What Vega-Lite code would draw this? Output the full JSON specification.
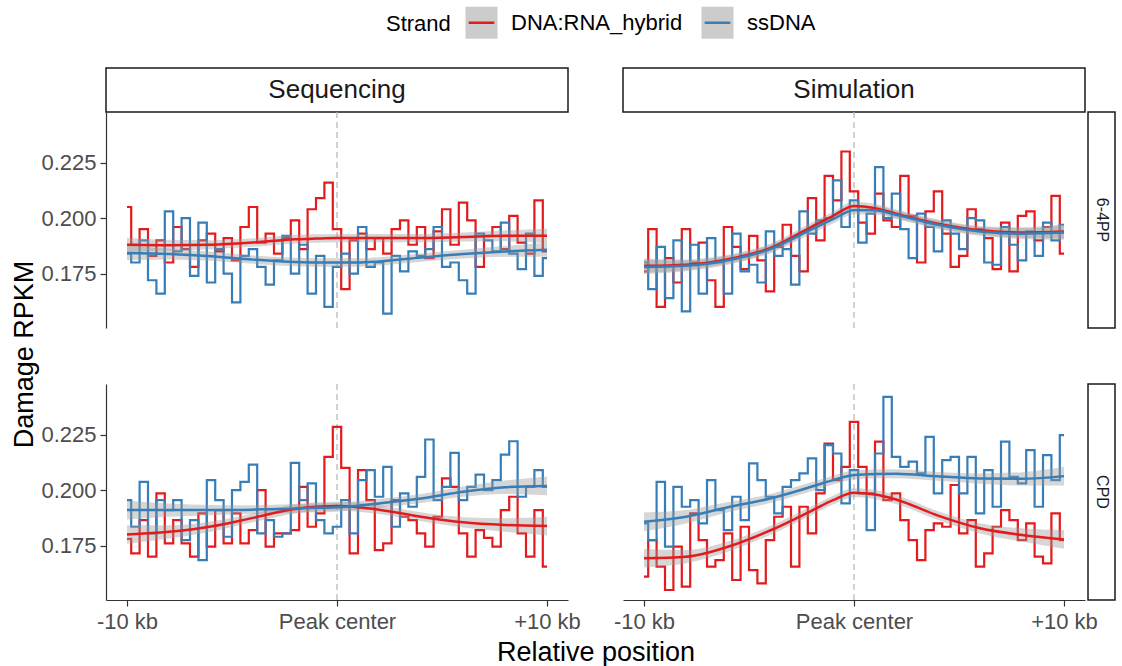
{
"$schema": "https://vega.github.io/schema/vega-lite/v6.json",
"background": "white",
"padding": {"left": 10, "top": 5, "right": 5, "bottom": 5},
"autosize": {"type": "pad"},
"columns": 5,
"spacing": 0,
"bounds": "flush",
"align": "each",
"datasets": {
"seq6": [
{"x":-10,"Strand":"DNA:RNA_hybrid","y":0.205},{"x":-9.6,"Strand":"DNA:RNA_hybrid","y":0.188},{"x":-9.2,"Strand":"DNA:RNA_hybrid","y":0.195},{"x":-8.8,"Strand":"DNA:RNA_hybrid","y":0.183},{"x":-8.4,"Strand":"DNA:RNA_hybrid","y":0.190},{"x":-8,"Strand":"DNA:RNA_hybrid","y":0.180},{"x":-7.6,"Strand":"DNA:RNA_hybrid","y":0.196},{"x":-7.2,"Strand":"DNA:RNA_hybrid","y":0.186},{"x":-6.8,"Strand":"DNA:RNA_hybrid","y":0.178},{"x":-6.4,"Strand":"DNA:RNA_hybrid","y":0.190},{"x":-6,"Strand":"DNA:RNA_hybrid","y":0.193},{"x":-5.6,"Strand":"DNA:RNA_hybrid","y":0.185},{"x":-5.2,"Strand":"DNA:RNA_hybrid","y":0.191},{"x":-4.8,"Strand":"DNA:RNA_hybrid","y":0.181},{"x":-4.4,"Strand":"DNA:RNA_hybrid","y":0.196},{"x":-4,"Strand":"DNA:RNA_hybrid","y":0.205},{"x":-3.6,"Strand":"DNA:RNA_hybrid","y":0.189},{"x":-3.2,"Strand":"DNA:RNA_hybrid","y":0.193},{"x":-2.8,"Strand":"DNA:RNA_hybrid","y":0.184},{"x":-2.4,"Strand":"DNA:RNA_hybrid","y":0.191},{"x":-2,"Strand":"DNA:RNA_hybrid","y":0.199},{"x":-1.6,"Strand":"DNA:RNA_hybrid","y":0.186},{"x":-1.2,"Strand":"DNA:RNA_hybrid","y":0.204},{"x":-0.8,"Strand":"DNA:RNA_hybrid","y":0.209},{"x":-0.4,"Strand":"DNA:RNA_hybrid","y":0.216},{"x":0,"Strand":"DNA:RNA_hybrid","y":0.195},{"x":0.4,"Strand":"DNA:RNA_hybrid","y":0.168},{"x":0.8,"Strand":"DNA:RNA_hybrid","y":0.190},{"x":1.2,"Strand":"DNA:RNA_hybrid","y":0.193},{"x":1.6,"Strand":"DNA:RNA_hybrid","y":0.186},{"x":2,"Strand":"DNA:RNA_hybrid","y":0.191},{"x":2.4,"Strand":"DNA:RNA_hybrid","y":0.184},{"x":2.8,"Strand":"DNA:RNA_hybrid","y":0.195},{"x":3.2,"Strand":"DNA:RNA_hybrid","y":0.199},{"x":3.6,"Strand":"DNA:RNA_hybrid","y":0.188},{"x":4,"Strand":"DNA:RNA_hybrid","y":0.196},{"x":4.4,"Strand":"DNA:RNA_hybrid","y":0.182},{"x":4.8,"Strand":"DNA:RNA_hybrid","y":0.194},{"x":5.2,"Strand":"DNA:RNA_hybrid","y":0.204},{"x":5.6,"Strand":"DNA:RNA_hybrid","y":0.188},{"x":6,"Strand":"DNA:RNA_hybrid","y":0.207},{"x":6.4,"Strand":"DNA:RNA_hybrid","y":0.199},{"x":6.8,"Strand":"DNA:RNA_hybrid","y":0.178},{"x":7.2,"Strand":"DNA:RNA_hybrid","y":0.192},{"x":7.6,"Strand":"DNA:RNA_hybrid","y":0.196},{"x":8,"Strand":"DNA:RNA_hybrid","y":0.186},{"x":8.4,"Strand":"DNA:RNA_hybrid","y":0.201},{"x":8.8,"Strand":"DNA:RNA_hybrid","y":0.189},{"x":9.2,"Strand":"DNA:RNA_hybrid","y":0.184},{"x":9.6,"Strand":"DNA:RNA_hybrid","y":0.208},{"x":10,"Strand":"DNA:RNA_hybrid","y":0.185},
{"x":-10,"Strand":"ssDNA","y":0.184},{"x":-9.6,"Strand":"ssDNA","y":0.180},{"x":-9.2,"Strand":"ssDNA","y":0.190},{"x":-8.8,"Strand":"ssDNA","y":0.172},{"x":-8.4,"Strand":"ssDNA","y":0.166},{"x":-8,"Strand":"ssDNA","y":0.203},{"x":-7.6,"Strand":"ssDNA","y":0.185},{"x":-7.2,"Strand":"ssDNA","y":0.200},{"x":-6.8,"Strand":"ssDNA","y":0.174},{"x":-6.4,"Strand":"ssDNA","y":0.198},{"x":-6,"Strand":"ssDNA","y":0.171},{"x":-5.6,"Strand":"ssDNA","y":0.186},{"x":-5.2,"Strand":"ssDNA","y":0.175},{"x":-4.8,"Strand":"ssDNA","y":0.162},{"x":-4.4,"Strand":"ssDNA","y":0.183},{"x":-4,"Strand":"ssDNA","y":0.186},{"x":-3.6,"Strand":"ssDNA","y":0.178},{"x":-3.2,"Strand":"ssDNA","y":0.170},{"x":-2.8,"Strand":"ssDNA","y":0.181},{"x":-2.4,"Strand":"ssDNA","y":0.192},{"x":-2,"Strand":"ssDNA","y":0.175},{"x":-1.6,"Strand":"ssDNA","y":0.188},{"x":-1.2,"Strand":"ssDNA","y":0.166},{"x":-0.8,"Strand":"ssDNA","y":0.183},{"x":-0.4,"Strand":"ssDNA","y":0.160},{"x":0,"Strand":"ssDNA","y":0.178},{"x":0.4,"Strand":"ssDNA","y":0.184},{"x":0.8,"Strand":"ssDNA","y":0.175},{"x":1.2,"Strand":"ssDNA","y":0.196},{"x":1.6,"Strand":"ssDNA","y":0.178},{"x":2,"Strand":"ssDNA","y":0.180},{"x":2.4,"Strand":"ssDNA","y":0.157},{"x":2.8,"Strand":"ssDNA","y":0.183},{"x":3.2,"Strand":"ssDNA","y":0.176},{"x":3.6,"Strand":"ssDNA","y":0.185},{"x":4,"Strand":"ssDNA","y":0.183},{"x":4.4,"Strand":"ssDNA","y":0.186},{"x":4.8,"Strand":"ssDNA","y":0.196},{"x":5.2,"Strand":"ssDNA","y":0.178},{"x":5.6,"Strand":"ssDNA","y":0.180},{"x":6,"Strand":"ssDNA","y":0.172},{"x":6.4,"Strand":"ssDNA","y":0.166},{"x":6.8,"Strand":"ssDNA","y":0.193},{"x":7.2,"Strand":"ssDNA","y":0.190},{"x":7.6,"Strand":"ssDNA","y":0.185},{"x":8,"Strand":"ssDNA","y":0.198},{"x":8.4,"Strand":"ssDNA","y":0.184},{"x":8.8,"Strand":"ssDNA","y":0.177},{"x":9.2,"Strand":"ssDNA","y":0.193},{"x":9.6,"Strand":"ssDNA","y":0.174},{"x":10,"Strand":"ssDNA","y":0.182}
],
"sim6": [
{"x":-10,"Strand":"DNA:RNA_hybrid","y":0.176},{"x":-9.6,"Strand":"DNA:RNA_hybrid","y":0.195},{"x":-9.2,"Strand":"DNA:RNA_hybrid","y":0.160},{"x":-8.8,"Strand":"DNA:RNA_hybrid","y":0.182},{"x":-8.4,"Strand":"DNA:RNA_hybrid","y":0.171},{"x":-8,"Strand":"DNA:RNA_hybrid","y":0.195},{"x":-7.6,"Strand":"DNA:RNA_hybrid","y":0.180},{"x":-7.2,"Strand":"DNA:RNA_hybrid","y":0.189},{"x":-6.8,"Strand":"DNA:RNA_hybrid","y":0.172},{"x":-6.4,"Strand":"DNA:RNA_hybrid","y":0.160},{"x":-6,"Strand":"DNA:RNA_hybrid","y":0.196},{"x":-5.6,"Strand":"DNA:RNA_hybrid","y":0.187},{"x":-5.2,"Strand":"DNA:RNA_hybrid","y":0.177},{"x":-4.8,"Strand":"DNA:RNA_hybrid","y":0.192},{"x":-4.4,"Strand":"DNA:RNA_hybrid","y":0.181},{"x":-4,"Strand":"DNA:RNA_hybrid","y":0.167},{"x":-3.6,"Strand":"DNA:RNA_hybrid","y":0.187},{"x":-3.2,"Strand":"DNA:RNA_hybrid","y":0.197},{"x":-2.8,"Strand":"DNA:RNA_hybrid","y":0.183},{"x":-2.4,"Strand":"DNA:RNA_hybrid","y":0.176},{"x":-2,"Strand":"DNA:RNA_hybrid","y":0.209},{"x":-1.6,"Strand":"DNA:RNA_hybrid","y":0.190},{"x":-1.2,"Strand":"DNA:RNA_hybrid","y":0.219},{"x":-0.8,"Strand":"DNA:RNA_hybrid","y":0.208},{"x":-0.4,"Strand":"DNA:RNA_hybrid","y":0.230},{"x":0,"Strand":"DNA:RNA_hybrid","y":0.212},{"x":0.4,"Strand":"DNA:RNA_hybrid","y":0.198},{"x":0.8,"Strand":"DNA:RNA_hybrid","y":0.193},{"x":1.2,"Strand":"DNA:RNA_hybrid","y":0.211},{"x":1.6,"Strand":"DNA:RNA_hybrid","y":0.199},{"x":2,"Strand":"DNA:RNA_hybrid","y":0.196},{"x":2.4,"Strand":"DNA:RNA_hybrid","y":0.219},{"x":2.8,"Strand":"DNA:RNA_hybrid","y":0.201},{"x":3.2,"Strand":"DNA:RNA_hybrid","y":0.180},{"x":3.6,"Strand":"DNA:RNA_hybrid","y":0.203},{"x":4,"Strand":"DNA:RNA_hybrid","y":0.212},{"x":4.4,"Strand":"DNA:RNA_hybrid","y":0.193},{"x":4.8,"Strand":"DNA:RNA_hybrid","y":0.178},{"x":5.2,"Strand":"DNA:RNA_hybrid","y":0.183},{"x":5.6,"Strand":"DNA:RNA_hybrid","y":0.204},{"x":6,"Strand":"DNA:RNA_hybrid","y":0.195},{"x":6.4,"Strand":"DNA:RNA_hybrid","y":0.191},{"x":6.8,"Strand":"DNA:RNA_hybrid","y":0.177},{"x":7.2,"Strand":"DNA:RNA_hybrid","y":0.198},{"x":7.6,"Strand":"DNA:RNA_hybrid","y":0.176},{"x":8,"Strand":"DNA:RNA_hybrid","y":0.201},{"x":8.4,"Strand":"DNA:RNA_hybrid","y":0.203},{"x":8.8,"Strand":"DNA:RNA_hybrid","y":0.190},{"x":9.2,"Strand":"DNA:RNA_hybrid","y":0.196},{"x":9.6,"Strand":"DNA:RNA_hybrid","y":0.210},{"x":10,"Strand":"DNA:RNA_hybrid","y":0.184},
{"x":-10,"Strand":"ssDNA","y":0.180},{"x":-9.6,"Strand":"ssDNA","y":0.168},{"x":-9.2,"Strand":"ssDNA","y":0.187},{"x":-8.8,"Strand":"ssDNA","y":0.164},{"x":-8.4,"Strand":"ssDNA","y":0.190},{"x":-8,"Strand":"ssDNA","y":0.158},{"x":-7.6,"Strand":"ssDNA","y":0.188},{"x":-7.2,"Strand":"ssDNA","y":0.166},{"x":-6.8,"Strand":"ssDNA","y":0.191},{"x":-6.4,"Strand":"ssDNA","y":0.180},{"x":-6,"Strand":"ssDNA","y":0.166},{"x":-5.6,"Strand":"ssDNA","y":0.193},{"x":-5.2,"Strand":"ssDNA","y":0.176},{"x":-4.8,"Strand":"ssDNA","y":0.179},{"x":-4.4,"Strand":"ssDNA","y":0.171},{"x":-4,"Strand":"ssDNA","y":0.194},{"x":-3.6,"Strand":"ssDNA","y":0.183},{"x":-3.2,"Strand":"ssDNA","y":0.186},{"x":-2.8,"Strand":"ssDNA","y":0.170},{"x":-2.4,"Strand":"ssDNA","y":0.203},{"x":-2,"Strand":"ssDNA","y":0.193},{"x":-1.6,"Strand":"ssDNA","y":0.199},{"x":-1.2,"Strand":"ssDNA","y":0.200},{"x":-0.8,"Strand":"ssDNA","y":0.217},{"x":-0.4,"Strand":"ssDNA","y":0.196},{"x":0,"Strand":"ssDNA","y":0.208},{"x":0.4,"Strand":"ssDNA","y":0.189},{"x":0.8,"Strand":"ssDNA","y":0.202},{"x":1.2,"Strand":"ssDNA","y":0.223},{"x":1.6,"Strand":"ssDNA","y":0.200},{"x":2,"Strand":"ssDNA","y":0.211},{"x":2.4,"Strand":"ssDNA","y":0.195},{"x":2.8,"Strand":"ssDNA","y":0.182},{"x":3.2,"Strand":"ssDNA","y":0.202},{"x":3.6,"Strand":"ssDNA","y":0.196},{"x":4,"Strand":"ssDNA","y":0.185},{"x":4.4,"Strand":"ssDNA","y":0.199},{"x":4.8,"Strand":"ssDNA","y":0.193},{"x":5.2,"Strand":"ssDNA","y":0.186},{"x":5.6,"Strand":"ssDNA","y":0.200},{"x":6,"Strand":"ssDNA","y":0.199},{"x":6.4,"Strand":"ssDNA","y":0.180},{"x":6.8,"Strand":"ssDNA","y":0.179},{"x":7.2,"Strand":"ssDNA","y":0.196},{"x":7.6,"Strand":"ssDNA","y":0.188},{"x":8,"Strand":"ssDNA","y":0.181},{"x":8.4,"Strand":"ssDNA","y":0.194},{"x":8.8,"Strand":"ssDNA","y":0.183},{"x":9.2,"Strand":"ssDNA","y":0.198},{"x":9.6,"Strand":"ssDNA","y":0.190},{"x":10,"Strand":"ssDNA","y":0.197}
],
"seqC": [
{"x":-10,"Strand":"DNA:RNA_hybrid","y":0.178},{"x":-9.6,"Strand":"DNA:RNA_hybrid","y":0.1715},{"x":-9.2,"Strand":"DNA:RNA_hybrid","y":0.1865},{"x":-8.8,"Strand":"DNA:RNA_hybrid","y":0.170},{"x":-8.4,"Strand":"DNA:RNA_hybrid","y":0.1985},{"x":-8,"Strand":"DNA:RNA_hybrid","y":0.176},{"x":-7.6,"Strand":"DNA:RNA_hybrid","y":0.1865},{"x":-7.2,"Strand":"DNA:RNA_hybrid","y":0.176},{"x":-6.8,"Strand":"DNA:RNA_hybrid","y":0.170},{"x":-6.4,"Strand":"DNA:RNA_hybrid","y":0.1895},{"x":-6,"Strand":"DNA:RNA_hybrid","y":0.1745},{"x":-5.6,"Strand":"DNA:RNA_hybrid","y":0.191},{"x":-5.2,"Strand":"DNA:RNA_hybrid","y":0.176},{"x":-4.8,"Strand":"DNA:RNA_hybrid","y":0.1895},{"x":-4.4,"Strand":"DNA:RNA_hybrid","y":0.176},{"x":-4,"Strand":"DNA:RNA_hybrid","y":0.182},{"x":-3.6,"Strand":"DNA:RNA_hybrid","y":0.200},{"x":-3.2,"Strand":"DNA:RNA_hybrid","y":0.1745},{"x":-2.8,"Strand":"DNA:RNA_hybrid","y":0.1805},{"x":-2.4,"Strand":"DNA:RNA_hybrid","y":0.1805},{"x":-2,"Strand":"DNA:RNA_hybrid","y":0.182},{"x":-1.6,"Strand":"DNA:RNA_hybrid","y":0.2015},{"x":-1.2,"Strand":"DNA:RNA_hybrid","y":0.1835},{"x":-0.8,"Strand":"DNA:RNA_hybrid","y":0.1895},{"x":-0.4,"Strand":"DNA:RNA_hybrid","y":0.215},{"x":0,"Strand":"DNA:RNA_hybrid","y":0.2285},{"x":0.4,"Strand":"DNA:RNA_hybrid","y":0.210},{"x":0.8,"Strand":"DNA:RNA_hybrid","y":0.1715},{"x":1.2,"Strand":"DNA:RNA_hybrid","y":0.209},{"x":1.6,"Strand":"DNA:RNA_hybrid","y":0.1955},{"x":2,"Strand":"DNA:RNA_hybrid","y":0.173},{"x":2.4,"Strand":"DNA:RNA_hybrid","y":0.176},{"x":2.8,"Strand":"DNA:RNA_hybrid","y":0.1955},{"x":3.2,"Strand":"DNA:RNA_hybrid","y":0.188},{"x":3.6,"Strand":"DNA:RNA_hybrid","y":0.1865},{"x":4,"Strand":"DNA:RNA_hybrid","y":0.1805},{"x":4.4,"Strand":"DNA:RNA_hybrid","y":0.1745},{"x":4.8,"Strand":"DNA:RNA_hybrid","y":0.188},{"x":5.2,"Strand":"DNA:RNA_hybrid","y":0.2053},{"x":5.6,"Strand":"DNA:RNA_hybrid","y":0.2015},{"x":6,"Strand":"DNA:RNA_hybrid","y":0.1805},{"x":6.4,"Strand":"DNA:RNA_hybrid","y":0.170},{"x":6.8,"Strand":"DNA:RNA_hybrid","y":0.182},{"x":7.2,"Strand":"DNA:RNA_hybrid","y":0.1785},{"x":7.6,"Strand":"DNA:RNA_hybrid","y":0.1745},{"x":8,"Strand":"DNA:RNA_hybrid","y":0.191},{"x":8.4,"Strand":"DNA:RNA_hybrid","y":0.197},{"x":8.8,"Strand":"DNA:RNA_hybrid","y":0.1805},{"x":9.2,"Strand":"DNA:RNA_hybrid","y":0.170},{"x":9.6,"Strand":"DNA:RNA_hybrid","y":0.191},{"x":10,"Strand":"DNA:RNA_hybrid","y":0.1655},
{"x":-10,"Strand":"ssDNA","y":0.1955},{"x":-9.6,"Strand":"ssDNA","y":0.1835},{"x":-9.2,"Strand":"ssDNA","y":0.2037},{"x":-8.8,"Strand":"ssDNA","y":0.1805},{"x":-8.4,"Strand":"ssDNA","y":0.1955},{"x":-8,"Strand":"ssDNA","y":0.191},{"x":-7.6,"Strand":"ssDNA","y":0.1955},{"x":-7.2,"Strand":"ssDNA","y":0.1775},{"x":-6.8,"Strand":"ssDNA","y":0.1865},{"x":-6.4,"Strand":"ssDNA","y":0.1685},{"x":-6,"Strand":"ssDNA","y":0.2045},{"x":-5.6,"Strand":"ssDNA","y":0.1955},{"x":-5.2,"Strand":"ssDNA","y":0.179},{"x":-4.8,"Strand":"ssDNA","y":0.200},{"x":-4.4,"Strand":"ssDNA","y":0.2037},{"x":-4,"Strand":"ssDNA","y":0.2115},{"x":-3.6,"Strand":"ssDNA","y":0.1805},{"x":-3.2,"Strand":"ssDNA","y":0.1865},{"x":-2.8,"Strand":"ssDNA","y":0.179},{"x":-2.4,"Strand":"ssDNA","y":0.1805},{"x":-2,"Strand":"ssDNA","y":0.2123},{"x":-1.6,"Strand":"ssDNA","y":0.1955},{"x":-1.2,"Strand":"ssDNA","y":0.203},{"x":-0.8,"Strand":"ssDNA","y":0.1865},{"x":-0.4,"Strand":"ssDNA","y":0.1805},{"x":0,"Strand":"ssDNA","y":0.1835},{"x":0.4,"Strand":"ssDNA","y":0.1955},{"x":0.8,"Strand":"ssDNA","y":0.1805},{"x":1.2,"Strand":"ssDNA","y":0.2045},{"x":1.6,"Strand":"ssDNA","y":0.209},{"x":2,"Strand":"ssDNA","y":0.197},{"x":2.4,"Strand":"ssDNA","y":0.2105},{"x":2.8,"Strand":"ssDNA","y":0.1835},{"x":3.2,"Strand":"ssDNA","y":0.1985},{"x":3.6,"Strand":"ssDNA","y":0.1925},{"x":4,"Strand":"ssDNA","y":0.206},{"x":4.4,"Strand":"ssDNA","y":0.2228},{"x":4.8,"Strand":"ssDNA","y":0.1955},{"x":5.2,"Strand":"ssDNA","y":0.2015},{"x":5.6,"Strand":"ssDNA","y":0.2168},{"x":6,"Strand":"ssDNA","y":0.1955},{"x":6.4,"Strand":"ssDNA","y":0.2015},{"x":6.8,"Strand":"ssDNA","y":0.207},{"x":7.2,"Strand":"ssDNA","y":0.200},{"x":7.6,"Strand":"ssDNA","y":0.2045},{"x":8,"Strand":"ssDNA","y":0.216},{"x":8.4,"Strand":"ssDNA","y":0.222},{"x":8.8,"Strand":"ssDNA","y":0.197},{"x":9.2,"Strand":"ssDNA","y":0.2015},{"x":9.6,"Strand":"ssDNA","y":0.209},{"x":10,"Strand":"ssDNA","y":0.2015}
],
"simC": [
{"x":-10,"Strand":"DNA:RNA_hybrid","y":0.161},{"x":-9.6,"Strand":"DNA:RNA_hybrid","y":0.1775},{"x":-9.2,"Strand":"DNA:RNA_hybrid","y":0.1655},{"x":-8.8,"Strand":"DNA:RNA_hybrid","y":0.155},{"x":-8.4,"Strand":"DNA:RNA_hybrid","y":0.1745},{"x":-8,"Strand":"DNA:RNA_hybrid","y":0.1565},{"x":-7.6,"Strand":"DNA:RNA_hybrid","y":0.1895},{"x":-7.2,"Strand":"DNA:RNA_hybrid","y":0.1775},{"x":-6.8,"Strand":"DNA:RNA_hybrid","y":0.1655},{"x":-6.4,"Strand":"DNA:RNA_hybrid","y":0.1685},{"x":-6,"Strand":"DNA:RNA_hybrid","y":0.1805},{"x":-5.6,"Strand":"DNA:RNA_hybrid","y":0.1595},{"x":-5.2,"Strand":"DNA:RNA_hybrid","y":0.1835},{"x":-4.8,"Strand":"DNA:RNA_hybrid","y":0.164},{"x":-4.4,"Strand":"DNA:RNA_hybrid","y":0.158},{"x":-4,"Strand":"DNA:RNA_hybrid","y":0.1775},{"x":-3.6,"Strand":"DNA:RNA_hybrid","y":0.188},{"x":-3.2,"Strand":"DNA:RNA_hybrid","y":0.1925},{"x":-2.8,"Strand":"DNA:RNA_hybrid","y":0.1655},{"x":-2.4,"Strand":"DNA:RNA_hybrid","y":0.1925},{"x":-2,"Strand":"DNA:RNA_hybrid","y":0.1805},{"x":-1.6,"Strand":"DNA:RNA_hybrid","y":0.1985},{"x":-1.2,"Strand":"DNA:RNA_hybrid","y":0.221},{"x":-0.8,"Strand":"DNA:RNA_hybrid","y":0.2045},{"x":-0.4,"Strand":"DNA:RNA_hybrid","y":0.2105},{"x":0,"Strand":"DNA:RNA_hybrid","y":0.2307},{"x":0.4,"Strand":"DNA:RNA_hybrid","y":0.2105},{"x":0.8,"Strand":"DNA:RNA_hybrid","y":0.1985},{"x":1.2,"Strand":"DNA:RNA_hybrid","y":0.2218},{"x":1.6,"Strand":"DNA:RNA_hybrid","y":0.1955},{"x":2,"Strand":"DNA:RNA_hybrid","y":0.1985},{"x":2.4,"Strand":"DNA:RNA_hybrid","y":0.1865},{"x":2.8,"Strand":"DNA:RNA_hybrid","y":0.1775},{"x":3.2,"Strand":"DNA:RNA_hybrid","y":0.1685},{"x":3.6,"Strand":"DNA:RNA_hybrid","y":0.182},{"x":4,"Strand":"DNA:RNA_hybrid","y":0.185},{"x":4.4,"Strand":"DNA:RNA_hybrid","y":0.1835},{"x":4.8,"Strand":"DNA:RNA_hybrid","y":0.2023},{"x":5.2,"Strand":"DNA:RNA_hybrid","y":0.1805},{"x":5.6,"Strand":"DNA:RNA_hybrid","y":0.1865},{"x":6,"Strand":"DNA:RNA_hybrid","y":0.1655},{"x":6.4,"Strand":"DNA:RNA_hybrid","y":0.1715},{"x":6.8,"Strand":"DNA:RNA_hybrid","y":0.1835},{"x":7.2,"Strand":"DNA:RNA_hybrid","y":0.191},{"x":7.6,"Strand":"DNA:RNA_hybrid","y":0.1865},{"x":8,"Strand":"DNA:RNA_hybrid","y":0.1775},{"x":8.4,"Strand":"DNA:RNA_hybrid","y":0.185},{"x":8.8,"Strand":"DNA:RNA_hybrid","y":0.170},{"x":9.2,"Strand":"DNA:RNA_hybrid","y":0.167},{"x":9.6,"Strand":"DNA:RNA_hybrid","y":0.1895},{"x":10,"Strand":"DNA:RNA_hybrid","y":0.1775},
{"x":-10,"Strand":"ssDNA","y":0.185},{"x":-9.6,"Strand":"ssDNA","y":0.1775},{"x":-9.2,"Strand":"ssDNA","y":0.2037},{"x":-8.8,"Strand":"ssDNA","y":0.1745},{"x":-8.4,"Strand":"ssDNA","y":0.2015},{"x":-8,"Strand":"ssDNA","y":0.1925},{"x":-7.6,"Strand":"ssDNA","y":0.1955},{"x":-7.2,"Strand":"ssDNA","y":0.185},{"x":-6.8,"Strand":"ssDNA","y":0.2045},{"x":-6.4,"Strand":"ssDNA","y":0.191},{"x":-6,"Strand":"ssDNA","y":0.182},{"x":-5.6,"Strand":"ssDNA","y":0.197},{"x":-5.2,"Strand":"ssDNA","y":0.1865},{"x":-4.8,"Strand":"ssDNA","y":0.212},{"x":-4.4,"Strand":"ssDNA","y":0.2045},{"x":-4,"Strand":"ssDNA","y":0.197},{"x":-3.6,"Strand":"ssDNA","y":0.1895},{"x":-3.2,"Strand":"ssDNA","y":0.2015},{"x":-2.8,"Strand":"ssDNA","y":0.2045},{"x":-2.4,"Strand":"ssDNA","y":0.2075},{"x":-2,"Strand":"ssDNA","y":0.2143},{"x":-1.6,"Strand":"ssDNA","y":0.200},{"x":-1.2,"Strand":"ssDNA","y":0.2203},{"x":-0.8,"Strand":"ssDNA","y":0.2165},{"x":-0.4,"Strand":"ssDNA","y":0.194},{"x":0,"Strand":"ssDNA","y":0.209},{"x":0.4,"Strand":"ssDNA","y":0.1985},{"x":0.8,"Strand":"ssDNA","y":0.182},{"x":1.2,"Strand":"ssDNA","y":0.2165},{"x":1.6,"Strand":"ssDNA","y":0.242},{"x":2,"Strand":"ssDNA","y":0.215},{"x":2.4,"Strand":"ssDNA","y":0.2105},{"x":2.8,"Strand":"ssDNA","y":0.2128},{"x":3.2,"Strand":"ssDNA","y":0.2075},{"x":3.6,"Strand":"ssDNA","y":0.224},{"x":4,"Strand":"ssDNA","y":0.1985},{"x":4.4,"Strand":"ssDNA","y":0.2135},{"x":4.8,"Strand":"ssDNA","y":0.215},{"x":5.2,"Strand":"ssDNA","y":0.1985},{"x":5.6,"Strand":"ssDNA","y":0.215},{"x":6,"Strand":"ssDNA","y":0.1895},{"x":6.4,"Strand":"ssDNA","y":0.209},{"x":6.8,"Strand":"ssDNA","y":0.1925},{"x":7.2,"Strand":"ssDNA","y":0.2218},{"x":7.6,"Strand":"ssDNA","y":0.206},{"x":8,"Strand":"ssDNA","y":0.203},{"x":8.4,"Strand":"ssDNA","y":0.218},{"x":8.8,"Strand":"ssDNA","y":0.1925},{"x":9.2,"Strand":"ssDNA","y":0.2158},{"x":9.6,"Strand":"ssDNA","y":0.2045},{"x":10,"Strand":"ssDNA","y":0.2248}
],
"seq6s": [
{"x":-10,"Strand":"DNA:RNA_hybrid","y":0.188,"lo":0.1848,"hi":0.1912},{"x":-8,"Strand":"DNA:RNA_hybrid","y":0.1878,"lo":0.1854,"hi":0.1902},{"x":-6,"Strand":"DNA:RNA_hybrid","y":0.188,"lo":0.186,"hi":0.190},{"x":-4,"Strand":"DNA:RNA_hybrid","y":0.189,"lo":0.1871,"hi":0.1909},{"x":-2,"Strand":"DNA:RNA_hybrid","y":0.1905,"lo":0.1886,"hi":0.1924},{"x":-1,"Strand":"DNA:RNA_hybrid","y":0.1908,"lo":0.1889,"hi":0.1927},{"x":0,"Strand":"DNA:RNA_hybrid","y":0.191,"lo":0.1891,"hi":0.1929},{"x":1,"Strand":"DNA:RNA_hybrid","y":0.191,"lo":0.1891,"hi":0.1929},{"x":2,"Strand":"DNA:RNA_hybrid","y":0.191,"lo":0.1891,"hi":0.1929},{"x":4,"Strand":"DNA:RNA_hybrid","y":0.191,"lo":0.1891,"hi":0.1929},{"x":6,"Strand":"DNA:RNA_hybrid","y":0.1915,"lo":0.1895,"hi":0.1935},{"x":8,"Strand":"DNA:RNA_hybrid","y":0.192,"lo":0.1896,"hi":0.1944},{"x":10,"Strand":"DNA:RNA_hybrid","y":0.192,"lo":0.1888,"hi":0.1952},
{"x":-10,"Strand":"ssDNA","y":0.1843,"lo":0.1811,"hi":0.1875},{"x":-8,"Strand":"ssDNA","y":0.1838,"lo":0.1814,"hi":0.1862},{"x":-6,"Strand":"ssDNA","y":0.1828,"lo":0.1808,"hi":0.1848},{"x":-4,"Strand":"ssDNA","y":0.1813,"lo":0.1794,"hi":0.1832},{"x":-2,"Strand":"ssDNA","y":0.1802,"lo":0.1783,"hi":0.1821},{"x":-1,"Strand":"ssDNA","y":0.180,"lo":0.1781,"hi":0.1819},{"x":0,"Strand":"ssDNA","y":0.180,"lo":0.1781,"hi":0.1819},{"x":1,"Strand":"ssDNA","y":0.180,"lo":0.1781,"hi":0.1819},{"x":2,"Strand":"ssDNA","y":0.1805,"lo":0.1786,"hi":0.1824},{"x":4,"Strand":"ssDNA","y":0.1822,"lo":0.1803,"hi":0.1841},{"x":6,"Strand":"ssDNA","y":0.1838,"lo":0.1818,"hi":0.1858},{"x":8,"Strand":"ssDNA","y":0.185,"lo":0.1826,"hi":0.1874},{"x":10,"Strand":"ssDNA","y":0.1858,"lo":0.1826,"hi":0.189}
],
"sim6s": [
{"x":-10,"Strand":"DNA:RNA_hybrid","y":0.1785,"lo":0.1753,"hi":0.1817},{"x":-8,"Strand":"DNA:RNA_hybrid","y":0.179,"lo":0.1766,"hi":0.1814},{"x":-6,"Strand":"DNA:RNA_hybrid","y":0.1815,"lo":0.1795,"hi":0.1835},{"x":-4,"Strand":"DNA:RNA_hybrid","y":0.1865,"lo":0.1846,"hi":0.1884},{"x":-2,"Strand":"DNA:RNA_hybrid","y":0.1962,"lo":0.1943,"hi":0.1981},{"x":-1,"Strand":"DNA:RNA_hybrid","y":0.201,"lo":0.1991,"hi":0.2029},{"x":0,"Strand":"DNA:RNA_hybrid","y":0.2055,"lo":0.2036,"hi":0.2074},{"x":1,"Strand":"DNA:RNA_hybrid","y":0.2045,"lo":0.2026,"hi":0.2064},{"x":2,"Strand":"DNA:RNA_hybrid","y":0.202,"lo":0.2001,"hi":0.2039},{"x":4,"Strand":"DNA:RNA_hybrid","y":0.1975,"lo":0.1956,"hi":0.1994},{"x":6,"Strand":"DNA:RNA_hybrid","y":0.1945,"lo":0.1925,"hi":0.1965},{"x":8,"Strand":"DNA:RNA_hybrid","y":0.1935,"lo":0.1911,"hi":0.1959},{"x":10,"Strand":"DNA:RNA_hybrid","y":0.194,"lo":0.1908,"hi":0.1972},
{"x":-10,"Strand":"ssDNA","y":0.178,"lo":0.1748,"hi":0.1812},{"x":-8,"Strand":"ssDNA","y":0.1785,"lo":0.1761,"hi":0.1809},{"x":-6,"Strand":"ssDNA","y":0.181,"lo":0.179,"hi":0.183},{"x":-4,"Strand":"ssDNA","y":0.186,"lo":0.1841,"hi":0.1879},{"x":-2,"Strand":"ssDNA","y":0.195,"lo":0.1931,"hi":0.1969},{"x":-1,"Strand":"ssDNA","y":0.1995,"lo":0.1976,"hi":0.2014},{"x":0,"Strand":"ssDNA","y":0.2035,"lo":0.2016,"hi":0.2054},{"x":1,"Strand":"ssDNA","y":0.2035,"lo":0.2016,"hi":0.2054},{"x":2,"Strand":"ssDNA","y":0.2015,"lo":0.1996,"hi":0.2034},{"x":4,"Strand":"ssDNA","y":0.197,"lo":0.1951,"hi":0.1989},{"x":6,"Strand":"ssDNA","y":0.194,"lo":0.192,"hi":0.196},{"x":8,"Strand":"ssDNA","y":0.193,"lo":0.1906,"hi":0.1954},{"x":10,"Strand":"ssDNA","y":0.1935,"lo":0.1903,"hi":0.1967}
],
"seqCs": [
{"x":-10,"Strand":"DNA:RNA_hybrid","y":0.180,"lo":0.1758,"hi":0.1842},{"x":-8,"Strand":"DNA:RNA_hybrid","y":0.1812,"lo":0.1782,"hi":0.1842},{"x":-6,"Strand":"DNA:RNA_hybrid","y":0.1836,"lo":0.1813,"hi":0.1859},{"x":-4,"Strand":"DNA:RNA_hybrid","y":0.1875,"lo":0.1855,"hi":0.1895},{"x":-2,"Strand":"DNA:RNA_hybrid","y":0.1915,"lo":0.1895,"hi":0.1935},{"x":-1,"Strand":"DNA:RNA_hybrid","y":0.1925,"lo":0.1905,"hi":0.1945},{"x":0,"Strand":"DNA:RNA_hybrid","y":0.1928,"lo":0.1908,"hi":0.1948},{"x":1,"Strand":"DNA:RNA_hybrid","y":0.1923,"lo":0.1903,"hi":0.1943},{"x":2,"Strand":"DNA:RNA_hybrid","y":0.1912,"lo":0.1892,"hi":0.1932},{"x":4,"Strand":"DNA:RNA_hybrid","y":0.188,"lo":0.186,"hi":0.190},{"x":6,"Strand":"DNA:RNA_hybrid","y":0.1855,"lo":0.1832,"hi":0.1878},{"x":8,"Strand":"DNA:RNA_hybrid","y":0.1843,"lo":0.1813,"hi":0.1873},{"x":10,"Strand":"DNA:RNA_hybrid","y":0.1838,"lo":0.1796,"hi":0.188},
{"x":-10,"Strand":"ssDNA","y":0.191,"lo":0.1868,"hi":0.1952},{"x":-8,"Strand":"ssDNA","y":0.191,"lo":0.188,"hi":0.194},{"x":-6,"Strand":"ssDNA","y":0.191,"lo":0.1887,"hi":0.1933},{"x":-4,"Strand":"ssDNA","y":0.1912,"lo":0.1892,"hi":0.1932},{"x":-2,"Strand":"ssDNA","y":0.1917,"lo":0.1897,"hi":0.1937},{"x":-1,"Strand":"ssDNA","y":0.192,"lo":0.190,"hi":0.194},{"x":0,"Strand":"ssDNA","y":0.1923,"lo":0.1903,"hi":0.1943},{"x":1,"Strand":"ssDNA","y":0.193,"lo":0.191,"hi":0.195},{"x":2,"Strand":"ssDNA","y":0.194,"lo":0.192,"hi":0.196},{"x":4,"Strand":"ssDNA","y":0.1962,"lo":0.1942,"hi":0.1982},{"x":6,"Strand":"ssDNA","y":0.1993,"lo":0.197,"hi":0.2016},{"x":8,"Strand":"ssDNA","y":0.2013,"lo":0.1983,"hi":0.2043},{"x":10,"Strand":"ssDNA","y":0.2019,"lo":0.1977,"hi":0.2061}
],
"simCs": [
{"x":-10,"Strand":"DNA:RNA_hybrid","y":0.1693,"lo":0.1651,"hi":0.1735},{"x":-8,"Strand":"DNA:RNA_hybrid","y":0.170,"lo":0.167,"hi":0.173},{"x":-6,"Strand":"DNA:RNA_hybrid","y":0.1745,"lo":0.1722,"hi":0.1768},{"x":-4,"Strand":"DNA:RNA_hybrid","y":0.1818,"lo":0.1798,"hi":0.1838},{"x":-2,"Strand":"DNA:RNA_hybrid","y":0.1908,"lo":0.1888,"hi":0.1928},{"x":-1,"Strand":"DNA:RNA_hybrid","y":0.1955,"lo":0.1935,"hi":0.1975},{"x":0,"Strand":"DNA:RNA_hybrid","y":0.1988,"lo":0.1968,"hi":0.2008},{"x":1,"Strand":"DNA:RNA_hybrid","y":0.198,"lo":0.196,"hi":0.200},{"x":2,"Strand":"DNA:RNA_hybrid","y":0.1958,"lo":0.1938,"hi":0.1978},{"x":4,"Strand":"DNA:RNA_hybrid","y":0.1885,"lo":0.1865,"hi":0.1905},{"x":6,"Strand":"DNA:RNA_hybrid","y":0.1828,"lo":0.1805,"hi":0.1851},{"x":8,"Strand":"DNA:RNA_hybrid","y":0.1798,"lo":0.1768,"hi":0.1828},{"x":10,"Strand":"DNA:RNA_hybrid","y":0.1778,"lo":0.1736,"hi":0.182},
{"x":-10,"Strand":"ssDNA","y":0.1857,"lo":0.1815,"hi":0.1899},{"x":-8,"Strand":"ssDNA","y":0.188,"lo":0.185,"hi":0.191},{"x":-6,"Strand":"ssDNA","y":0.1923,"lo":0.190,"hi":0.1946},{"x":-4,"Strand":"ssDNA","y":0.1962,"lo":0.1942,"hi":0.1982},{"x":-2,"Strand":"ssDNA","y":0.2016,"lo":0.1996,"hi":0.2036},{"x":-1,"Strand":"ssDNA","y":0.2045,"lo":0.2025,"hi":0.2065},{"x":0,"Strand":"ssDNA","y":0.2068,"lo":0.2048,"hi":0.2088},{"x":1,"Strand":"ssDNA","y":0.2073,"lo":0.2053,"hi":0.2093},{"x":2,"Strand":"ssDNA","y":0.2074,"lo":0.2054,"hi":0.2094},{"x":4,"Strand":"ssDNA","y":0.2062,"lo":0.2042,"hi":0.2082},{"x":6,"Strand":"ssDNA","y":0.2052,"lo":0.2029,"hi":0.2075},{"x":8,"Strand":"ssDNA","y":0.2051,"lo":0.2021,"hi":0.2081},{"x":10,"Strand":"ssDNA","y":0.2063,"lo":0.2021,"hi":0.2105}
]
},
"concat": [
{"width": 462, "height": 44, "view": {"stroke": "#1a1a1a", "strokeWidth": 1.5, "fill": "#ffffff"}, "data": {"values": [{"label": "Sequencing"}]}, "mark": {"type": "text", "fontSize": 26, "color": "#1a1a1a", "font": "Liberation Sans"}, "encoding": {"text": {"field": "label"}}},
{"width": 55, "height": 44, "data": {"values": []}, "mark": "point"},
{"width": 462, "height": 44, "view": {"stroke": "#1a1a1a", "strokeWidth": 1.5, "fill": "#ffffff"}, "data": {"values": [{"label": "Simulation"}]}, "mark": {"type": "text", "fontSize": 26, "color": "#1a1a1a", "font": "Liberation Sans"}, "encoding": {"text": {"field": "label"}}},
{"width": 3, "height": 44, "data": {"values": []}, "mark": "point"},
{"width": 27, "height": 44, "data": {"values": []}, "mark": "point"},

{"width": 462, "height": 216,
 "encoding": {"x": {"field": "x", "type": "quantitative", "scale": {"domain": [-11, 11], "nice": false, "zero": false}, "axis": null}},
 "layer": [
  {"data": {"values": [{"x": 0}]}, "mark": {"type": "rule", "color": "#b5b5b5", "strokeDash": [6, 4], "strokeWidth": 1.2}, "encoding": {}},
  {"data": {"name": "seq6"}, "mark": {"type": "line", "interpolate": "step", "strokeWidth": 2.2}, "encoding": {"y": {"field": "y", "type": "quantitative", "scale": {"domain": [0.1505, 0.2478], "nice": false, "zero": false}, "axis": {"values": [0.175, 0.2, 0.225], "format": ".3f", "title": "Damage RPKM", "titleY": 242, "titlePadding": 2}}, "color": {"field": "Strand", "type": "nominal", "scale": {"domain": ["DNA:RNA_hybrid", "ssDNA"], "range": ["#e41a1c", "#377eb8"]}, "legend": {"title": "Strand", "orient": "none", "legendX": 280, "legendY": -63, "direction": "horizontal", "labelLimit": 400, "symbolType": "M-0.8,0H1V-1H-1V1H1V0Z"}}}},
  {"data": {"name": "seq6s"}, "mark": {"type": "area", "color": "#999999", "opacity": 0.4, "interpolate": "monotone"}, "encoding": {"y": {"field": "lo", "type": "quantitative", "scale": {"domain": [0.1505, 0.2478], "nice": false, "zero": false}, "axis": {"values": [0.175, 0.2, 0.225], "format": ".3f", "title": "Damage RPKM", "titleY": 242, "titlePadding": 2}}, "y2": {"field": "hi"}, "detail": {"field": "Strand"}}},
  {"data": {"name": "seq6s"}, "mark": {"type": "line", "interpolate": "monotone", "strokeWidth": 2.5}, "encoding": {"y": {"field": "y", "type": "quantitative", "scale": {"domain": [0.1505, 0.2478], "nice": false, "zero": false}, "axis": {"values": [0.175, 0.2, 0.225], "format": ".3f", "title": "Damage RPKM", "titleY": 242, "titlePadding": 2}}, "color": {"field": "Strand", "type": "nominal", "scale": {"domain": ["DNA:RNA_hybrid", "ssDNA"], "range": ["#e41a1c", "#377eb8"]}, "legend": {"title": "Strand", "orient": "none", "legendX": 280, "legendY": -63, "direction": "horizontal", "labelLimit": 400, "symbolType": "M-0.8,0H1V-1H-1V1H1V0Z"}}}}
 ]},
{"width": 55, "height": 216, "data": {"values": []}, "mark": "point"},
{"width": 462, "height": 216,
 "encoding": {"x": {"field": "x", "type": "quantitative", "scale": {"domain": [-11, 11], "nice": false, "zero": false}, "axis": null}},
 "layer": [
  {"data": {"values": [{"x": 0}]}, "mark": {"type": "rule", "color": "#b5b5b5", "strokeDash": [6, 4], "strokeWidth": 1.2}, "encoding": {}},
  {"data": {"name": "sim6"}, "mark": {"type": "line", "interpolate": "step", "strokeWidth": 2.2}, "encoding": {"y": {"field": "y", "type": "quantitative", "scale": {"domain": [0.1505, 0.2478], "nice": false, "zero": false}, "axis": null}, "color": {"field": "Strand", "type": "nominal", "scale": {"domain": ["DNA:RNA_hybrid", "ssDNA"], "range": ["#e41a1c", "#377eb8"]}, "legend": {"title": "Strand", "orient": "none", "legendX": 280, "legendY": -63, "direction": "horizontal", "labelLimit": 400, "symbolType": "M-0.8,0H1V-1H-1V1H1V0Z"}}}},
  {"data": {"name": "sim6s"}, "mark": {"type": "area", "color": "#999999", "opacity": 0.4, "interpolate": "monotone"}, "encoding": {"y": {"field": "lo", "type": "quantitative", "scale": {"domain": [0.1505, 0.2478], "nice": false, "zero": false}, "axis": null}, "y2": {"field": "hi"}, "detail": {"field": "Strand"}}},
  {"data": {"name": "sim6s"}, "mark": {"type": "line", "interpolate": "monotone", "strokeWidth": 2.5}, "encoding": {"y": {"field": "y", "type": "quantitative", "scale": {"domain": [0.1505, 0.2478], "nice": false, "zero": false}, "axis": null}, "color": {"field": "Strand", "type": "nominal", "scale": {"domain": ["DNA:RNA_hybrid", "ssDNA"], "range": ["#e41a1c", "#377eb8"]}, "legend": {"title": "Strand", "orient": "none", "legendX": 280, "legendY": -63, "direction": "horizontal", "labelLimit": 400, "symbolType": "M-0.8,0H1V-1H-1V1H1V0Z"}}}}
 ]},
{"width": 3, "height": 216, "data": {"values": []}, "mark": "point"},
{"width": 27, "height": 216, "view": {"stroke": "#1a1a1a", "strokeWidth": 1.5, "fill": "#ffffff"}, "data": {"values": [{"label": "6-4PP"}]}, "mark": {"type": "text", "fontSize": 16, "angle": 90, "color": "#1a1a1a", "font": "Liberation Sans"}, "encoding": {"text": {"field": "label"}}},

{"width": 462, "height": 56, "data": {"values": []}, "mark": "point"},
{"width": 55, "height": 56, "data": {"values": []}, "mark": "point"},
{"width": 462, "height": 56, "data": {"values": []}, "mark": "point"},
{"width": 3, "height": 56, "data": {"values": []}, "mark": "point"},
{"width": 27, "height": 56, "data": {"values": []}, "mark": "point"},

{"width": 462, "height": 216,
 "encoding": {"x": {"field": "x", "type": "quantitative", "scale": {"domain": [-11, 11], "nice": false, "zero": false}, "axis": {"values": [-10, 0, 10], "labelExpr": "datum.value < 0 ? '-10 kb' : datum.value > 0 ? '+10 kb' : 'Peak center'", "title": "Relative position", "titleX": 489.5, "titlePadding": 7}}},
 "layer": [
  {"data": {"values": [{"x": 0}]}, "mark": {"type": "rule", "color": "#b5b5b5", "strokeDash": [6, 4], "strokeWidth": 1.2}, "encoding": {}},
  {"data": {"name": "seqC"}, "mark": {"type": "line", "interpolate": "step", "strokeWidth": 2.2}, "encoding": {"y": {"field": "y", "type": "quantitative", "scale": {"domain": [0.1505, 0.2478], "nice": false, "zero": false}, "axis": {"values": [0.175, 0.2, 0.225], "format": ".3f", "title": null}}, "color": {"field": "Strand", "type": "nominal", "scale": {"domain": ["DNA:RNA_hybrid", "ssDNA"], "range": ["#e41a1c", "#377eb8"]}, "legend": {"title": "Strand", "orient": "none", "legendX": 280, "legendY": -63, "direction": "horizontal", "labelLimit": 400, "symbolType": "M-0.8,0H1V-1H-1V1H1V0Z"}}}},
  {"data": {"name": "seqCs"}, "mark": {"type": "area", "color": "#999999", "opacity": 0.4, "interpolate": "monotone"}, "encoding": {"y": {"field": "lo", "type": "quantitative", "scale": {"domain": [0.1505, 0.2478], "nice": false, "zero": false}, "axis": {"values": [0.175, 0.2, 0.225], "format": ".3f", "title": null}}, "y2": {"field": "hi"}, "detail": {"field": "Strand"}}},
  {"data": {"name": "seqCs"}, "mark": {"type": "line", "interpolate": "monotone", "strokeWidth": 2.5}, "encoding": {"y": {"field": "y", "type": "quantitative", "scale": {"domain": [0.1505, 0.2478], "nice": false, "zero": false}, "axis": {"values": [0.175, 0.2, 0.225], "format": ".3f", "title": null}}, "color": {"field": "Strand", "type": "nominal", "scale": {"domain": ["DNA:RNA_hybrid", "ssDNA"], "range": ["#e41a1c", "#377eb8"]}, "legend": {"title": "Strand", "orient": "none", "legendX": 280, "legendY": -63, "direction": "horizontal", "labelLimit": 400, "symbolType": "M-0.8,0H1V-1H-1V1H1V0Z"}}}}
 ]},
{"width": 55, "height": 216, "data": {"values": []}, "mark": "point"},
{"width": 462, "height": 216,
 "encoding": {"x": {"field": "x", "type": "quantitative", "scale": {"domain": [-11, 11], "nice": false, "zero": false}, "axis": {"values": [-10, 0, 10], "labelExpr": "datum.value < 0 ? '-10 kb' : datum.value > 0 ? '+10 kb' : 'Peak center'", "title": null}}},
 "layer": [
  {"data": {"values": [{"x": 0}]}, "mark": {"type": "rule", "color": "#b5b5b5", "strokeDash": [6, 4], "strokeWidth": 1.2}, "encoding": {}},
  {"data": {"name": "simC"}, "mark": {"type": "line", "interpolate": "step", "strokeWidth": 2.2}, "encoding": {"y": {"field": "y", "type": "quantitative", "scale": {"domain": [0.1505, 0.2478], "nice": false, "zero": false}, "axis": null}, "color": {"field": "Strand", "type": "nominal", "scale": {"domain": ["DNA:RNA_hybrid", "ssDNA"], "range": ["#e41a1c", "#377eb8"]}, "legend": {"title": "Strand", "orient": "none", "legendX": 280, "legendY": -63, "direction": "horizontal", "labelLimit": 400, "symbolType": "M-0.8,0H1V-1H-1V1H1V0Z"}}}},
  {"data": {"name": "simCs"}, "mark": {"type": "area", "color": "#999999", "opacity": 0.4, "interpolate": "monotone"}, "encoding": {"y": {"field": "lo", "type": "quantitative", "scale": {"domain": [0.1505, 0.2478], "nice": false, "zero": false}, "axis": null}, "y2": {"field": "hi"}, "detail": {"field": "Strand"}}},
  {"data": {"name": "simCs"}, "mark": {"type": "line", "interpolate": "monotone", "strokeWidth": 2.5}, "encoding": {"y": {"field": "y", "type": "quantitative", "scale": {"domain": [0.1505, 0.2478], "nice": false, "zero": false}, "axis": null}, "color": {"field": "Strand", "type": "nominal", "scale": {"domain": ["DNA:RNA_hybrid", "ssDNA"], "range": ["#e41a1c", "#377eb8"]}, "legend": {"title": "Strand", "orient": "none", "legendX": 280, "legendY": -63, "direction": "horizontal", "labelLimit": 400, "symbolType": "M-0.8,0H1V-1H-1V1H1V0Z"}}}}
 ]},
{"width": 3, "height": 216, "data": {"values": []}, "mark": "point"},
{"width": 27, "height": 216, "view": {"stroke": "#1a1a1a", "strokeWidth": 1.5, "fill": "#ffffff"}, "data": {"values": [{"label": "CPD"}]}, "mark": {"type": "text", "fontSize": 16, "angle": 90, "color": "#1a1a1a", "font": "Liberation Sans"}, "encoding": {"text": {"field": "label"}}}
],
"config": {
 "view": {"stroke": null},
 "font": "Liberation Sans",
 "axis": {"grid": false, "domainColor": "#333333", "domainWidth": 1.2, "tickColor": "#333333", "tickWidth": 1.2, "tickSize": 6, "labelColor": "#4d4d4d", "labelFontSize": 22, "labelFont": "Liberation Sans", "labelPadding": 4, "titleFont": "Liberation Sans", "titleFontSize": 27, "titleColor": "#000000", "titleFontWeight": "normal"},
 "axisX": {"labelPadding": 5},
 "legend": {"labelFontSize": 22, "titleFontSize": 22, "titleFontWeight": "normal", "labelColor": "#000000", "titleColor": "#000000", "labelFont": "Liberation Sans", "titleFont": "Liberation Sans", "labelLimit": 400, "symbolSize": 1024, "symbolStrokeWidth": 2.5, "symbolDash": [25.6, 1000], "symbolFillColor": "#cccccc", "labelOffset": 12, "columnPadding": 13, "titlePadding": 13, "titleOrient": "left", "titleBaseline": "middle"}
}
}
